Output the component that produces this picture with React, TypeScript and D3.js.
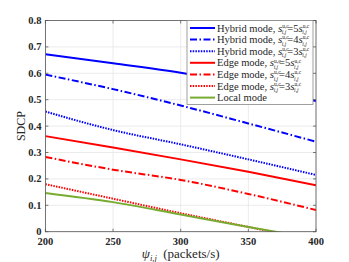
import React from "react";
import * as d3 from "d3";

const psi = [200, 250, 300, 350, 400];
const hybrid5 = [0.672, 0.638, 0.602, 0.553, 0.495];
const hybrid4 = [0.595, 0.54, 0.478, 0.41, 0.341];
const hybrid3 = [0.455, 0.385, 0.331, 0.274, 0.215];
const edge5 = [0.362, 0.319, 0.274, 0.227, 0.176];
const edge4 = [0.283, 0.235, 0.196, 0.143, 0.082];
const edge3 = [0.18, 0.125, 0.07, 0.018, -0.035];
const local = [0.147, 0.112, 0.065, 0.018, -0.027];

const xTicks = [200, 250, 300, 350, 400];
const yTicks = [0, 0.1, 0.2, 0.3, 0.4, 0.5, 0.6, 0.7, 0.8];

const series = [
  { mode: "Hybrid mode, ", k: "5", values: hybrid5, color: "#0000ff", dash: "" },
  { mode: "Hybrid mode, ", k: "4", values: hybrid4, color: "#0000ff", dash: "7,2.5,1.5,2.5" },
  { mode: "Hybrid mode, ", k: "3", values: hybrid3, color: "#0000ff", dash: "1.5,1.2" },
  { mode: "Edge mode, ", k: "5", values: edge5, color: "#ff0000", dash: "" },
  { mode: "Edge mode, ", k: "4", values: edge4, color: "#ff0000", dash: "7,2.5,1.5,2.5" },
  { mode: "Edge mode, ", k: "3", values: edge3, color: "#ff0000", dash: "1.5,1.2" },
  { mode: "Local mode", k: null, values: local, color: "#77ac30", dash: "" },
];

export default function App() {
  const margin = { left: 45.4, top: 20.5, right: 33, bottom: 30.3 };
  const W = 349, H = 262;
  const x = d3.scaleLinear().domain([200, 400]).range([margin.left, W - margin.right]);
  const y = d3.scaleLinear().domain([0, 0.8]).range([H - margin.bottom, margin.top]);
  const line = d3
    .line<number>()
    .x((d, i) => x(psi[i]))
    .y((d) => y(d))
    .curve(d3.curveMonotoneX);

  const [x0, x1] = x.range();
  const [yb, yt] = y.range();
  const font = "'Liberation Serif', 'DejaVu Serif', serif";

  // legend
  const lg = { x: 187, y: 20.5, w: 126, h: 84, row: 11.6 };
  const ss = 5.5;

  return (
    <svg width={W} height={H} style={{ position: "absolute", left: 0, top: 0 }}>
      <rect x={0} y={0} width={W} height={H} fill="#fff" />
      <defs>
        <clipPath id="plotclip">
          <rect x={x0} y={yt} width={x1 - x0} height={yb - yt} />
        </clipPath>
      </defs>
      {xTicks.map((t) => (
        <line key={"gx" + t} x1={x(t)} x2={x(t)} y1={yt} y2={yb} stroke="#e6e6e6" strokeWidth={0.8} />
      ))}
      {yTicks.map((t) => (
        <line key={"gy" + t} x1={x0} x2={x1} y1={y(t)} y2={y(t)} stroke="#e6e6e6" strokeWidth={0.8} />
      ))}
      <g clipPath="url(#plotclip)">
        {series.map((s, i) => (
          <path
            key={i}
            d={line(s.values) || ""}
            fill="none"
            stroke={s.color}
            strokeWidth={2}
            strokeDasharray={s.dash}
          />
        ))}
      </g>
      <rect x={x0} y={yt} width={x1 - x0} height={yb - yt} fill="none" stroke="#555" strokeWidth={0.8} />
      {xTicks.map((t) => (
        <g key={"tx" + t}>
          <line x1={x(t)} x2={x(t)} y1={yb} y2={yb - 3} stroke="#555" strokeWidth={0.8} />
          <line x1={x(t)} x2={x(t)} y1={yt} y2={yt + 3} stroke="#555" strokeWidth={0.8} />
          <text x={x(t)} y={yb + 13} textAnchor="middle" fontFamily={font} fontWeight="bold" fontSize={10.5} fill="#262626">
            {t}
          </text>
        </g>
      ))}
      {yTicks.map((t) => (
        <g key={"ty" + t}>
          <line x1={x0} x2={x0 + 3} y1={y(t)} y2={y(t)} stroke="#555" strokeWidth={0.8} />
          <line x1={x1} x2={x1 - 3} y1={y(t)} y2={y(t)} stroke="#555" strokeWidth={0.8} />
          <text x={x0 - 4} y={y(t) + 3.5} textAnchor="end" fontFamily={font} fontWeight="bold" fontSize={10.5} fill="#262626">
            {t === 0 ? "0" : t.toFixed(1)}
          </text>
        </g>
      ))}
      <text
        transform={`translate(25,${(yt + yb) / 2}) rotate(-90)`}
        textAnchor="middle"
        fontFamily={font}
        fontSize={12}
        fill="#262626"
      >
        SDCP
      </text>
      <text x={(x0 + x1) / 2} y={H - 4} textAnchor="middle" fontFamily={font} fontSize={13} fill="#262626">
        <tspan fontStyle="italic">ψ</tspan>
        <tspan fontStyle="italic" fontSize={8.5} dy={2.5}>i,j</tspan>
        <tspan dy={-2.5}>{"\u00a0\u00a0(packets/s)"}</tspan>
      </text>
      <rect x={lg.x} y={lg.y} width={lg.w} height={lg.h} fill="#fff" stroke="#888" strokeWidth={0.8} />
      {series.map((s, i) => {
        const cy = lg.y + 7.5 + i * lg.row;
        return (
          <g key={"lg" + i}>
            <line x1={lg.x + 3} x2={lg.x + 28} y1={cy} y2={cy} stroke={s.color} strokeWidth={2} strokeDasharray={s.dash} />
            <text x={lg.x + 30} y={cy + 3.5} fontFamily={font} fontSize={10.5} fill="#262626">
              {s.mode}
              {s.k && (
                <>
                  <tspan fontStyle="italic" fontSize={11}>s</tspan>
                  <tspan fontSize={ss} dy={-3.8}>u,c</tspan>
                  <tspan fontSize={ss} fontStyle="italic" dx={-7} dy={6.5}>i,j</tspan>
                  <tspan dy={-2.7} dx={1}>{"=" + s.k}</tspan>
                  <tspan fontStyle="italic" fontSize={11}>s</tspan>
                  <tspan fontSize={ss} dy={-3.8}>u,c</tspan>
                  <tspan fontSize={ss} fontStyle="italic" dx={-7} dy={6.5}>i,j</tspan>
                </>
              )}
            </text>
          </g>
        );
      })}
    </svg>
  );
}
